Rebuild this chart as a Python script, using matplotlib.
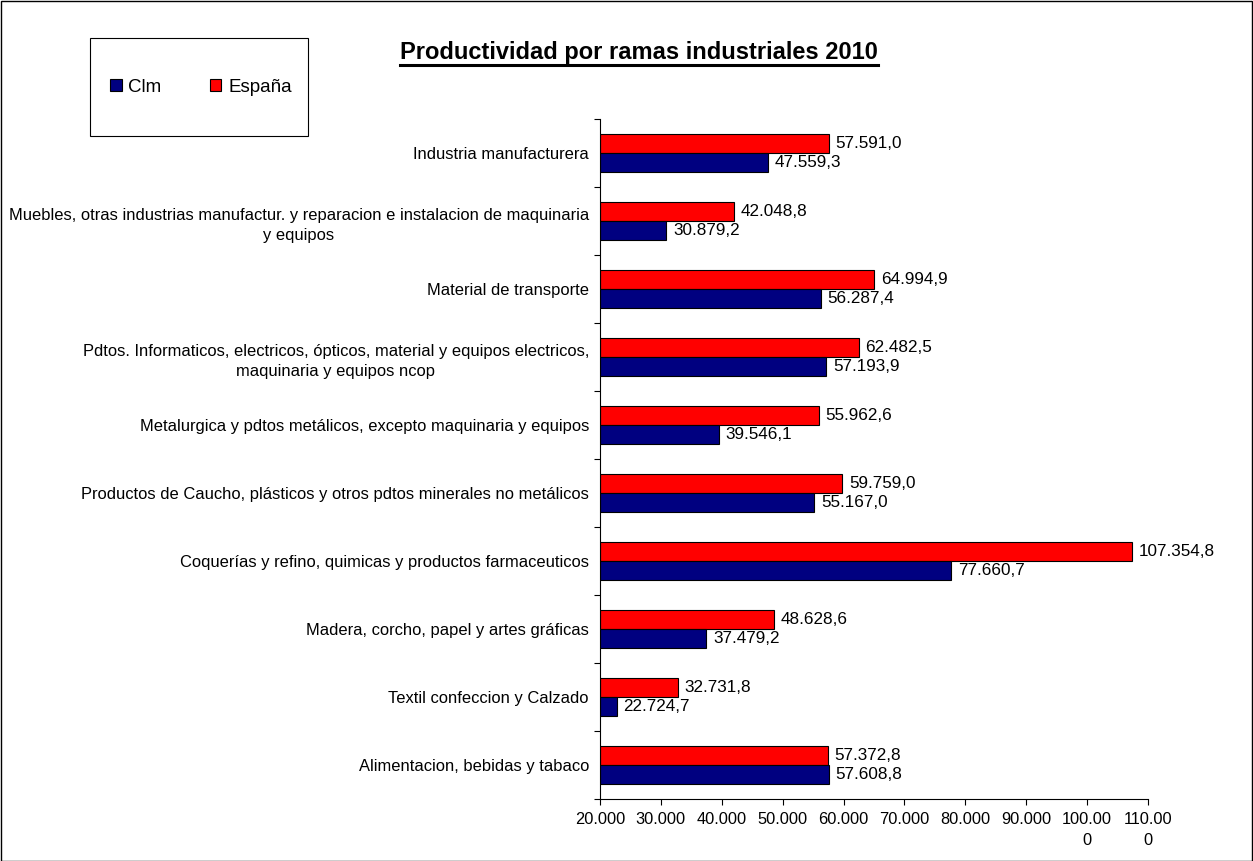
import matplotlib.pyplot as plt
import numpy as np
from matplotlib.patches import Rectangle
from matplotlib.lines import Line2D

plt.rcParams["font.family"] = ["Liberation Sans", "DejaVu Sans"]

categories = [
    "Alimentacion, bebidas y tabaco",
    "Textil confeccion y Calzado",
    "Madera, corcho, papel y artes gráficas",
    "Coquerías y refino, quimicas y productos farmaceuticos",
    "Productos de Caucho, plásticos y otros pdtos minerales no metálicos",
    "Metalurgica y pdtos metálicos, excepto maquinaria y equipos",
    "Pdtos. Informaticos, electricos, ópticos, material y equipos electricos,\nmaquinaria y equipos ncop",
    "Material de transporte",
    "Muebles, otras industrias manufactur. y reparacion e instalacion de maquinaria\ny equipos",
    "Industria manufacturera",
]
clm = [57608.8, 22724.7, 37479.2, 77660.7, 55167.0, 39546.1, 57193.9, 56287.4, 30879.2, 47559.3]
espana = [57372.8, 32731.8, 48628.6, 107354.8, 59759.0, 55962.6, 62482.5, 64994.9, 42048.8, 57591.0]
xticks = [20000, 30000, 40000, 50000, 60000, 70000, 80000, 90000, 100000, 110000]
xtick_labels = ["20.000", "30.000", "40.000", "50.000", "60.000", "70.000",
                "80.000", "90.000", "100.00\n0", "110.00\n0"]


def fmt(v):
    s = f"{v:,.1f}"
    return s.replace(",", "X").replace(".", ",").replace("X", ".")


W, H = 1253, 861
fig = plt.figure(figsize=(W / 100, H / 100), dpi=100)
ax = fig.add_axes([600 / W, 1 - 799 / H, 548 / W, 680 / H])

y = np.arange(len(categories))
h = 0.28
base = 20000
ax.barh(y + h / 2, np.array(espana) - base, height=h, left=base, color="#ff0000",
        edgecolor="black", linewidth=0.8, label="España")
ax.barh(y - h / 2, np.array(clm) - base, height=h, left=base, color="#000080",
        edgecolor="black", linewidth=0.8, label="Clm")

for i in range(len(categories)):
    ax.text(espana[i] + 1100, y[i] + h / 2, fmt(espana[i]), va="center", ha="left", fontsize=12.3)
    ax.text(clm[i] + 1100, y[i] - h / 2, fmt(clm[i]), va="center", ha="left", fontsize=12.3)

ax.set_xlim(20000, 110000)
ax.set_ylim(-0.5, len(categories) - 0.5)
ax.set_xticks(xticks)
ax.set_xticklabels(xtick_labels, fontsize=11.8, linespacing=1.55)
ax.tick_params(axis="x", direction="out", length=4, pad=5)

ax.set_yticks(np.arange(len(categories) + 1) - 0.5)
ax.set_yticklabels([])
ax.set_yticks(y, minor=True)
ax.set_yticklabels(categories, minor=True, fontsize=11.9, multialignment="center",
                   linespacing=1.45)
ax.tick_params(axis="y", which="major", direction="out", length=4)
ax.tick_params(axis="y", which="minor", length=0, pad=8)

for s in ["top", "right"]:
    ax.spines[s].set_visible(False)
ax.spines["left"].set_color("black")
ax.spines["bottom"].set_color("black")

# title with underline
t = fig.text(639 / W, 1 - 52 / H, "Productividad por ramas industriales 2010",
             ha="center", va="center", fontsize=17, fontweight="bold")
fig.canvas.draw()
bb = t.get_window_extent()
fig.add_artist(Line2D([bb.x0 / W, bb.x1 / W], [(bb.y0 - 1) / H, (bb.y0 - 1) / H],
                      color="black", linewidth=2.2, transform=fig.transFigure))

# legend box
fig.add_artist(Rectangle((90 / W, 1 - 136 / H), 218 / W, 98 / H, transform=fig.transFigure,
                         facecolor="white", edgecolor="black", linewidth=0.8))
handles, labels = ax.get_legend_handles_labels()
fig.legend(handles[::-1], labels[::-1], loc="center", bbox_to_anchor=(201 / W, 1 - 87 / H),
           ncol=2, frameon=False, fontsize=13.5, handlelength=0.6, handleheight=0.6,
           handletextpad=0.35, columnspacing=2.6)

# outer border
fig.add_artist(Rectangle((0.5 / W, 0.5 / H), (W - 1.5) / W, (H - 1.5) / H,
                         transform=fig.transFigure, facecolor="none",
                         edgecolor="black", linewidth=1))

fig.savefig("out.png", dpi=100)
